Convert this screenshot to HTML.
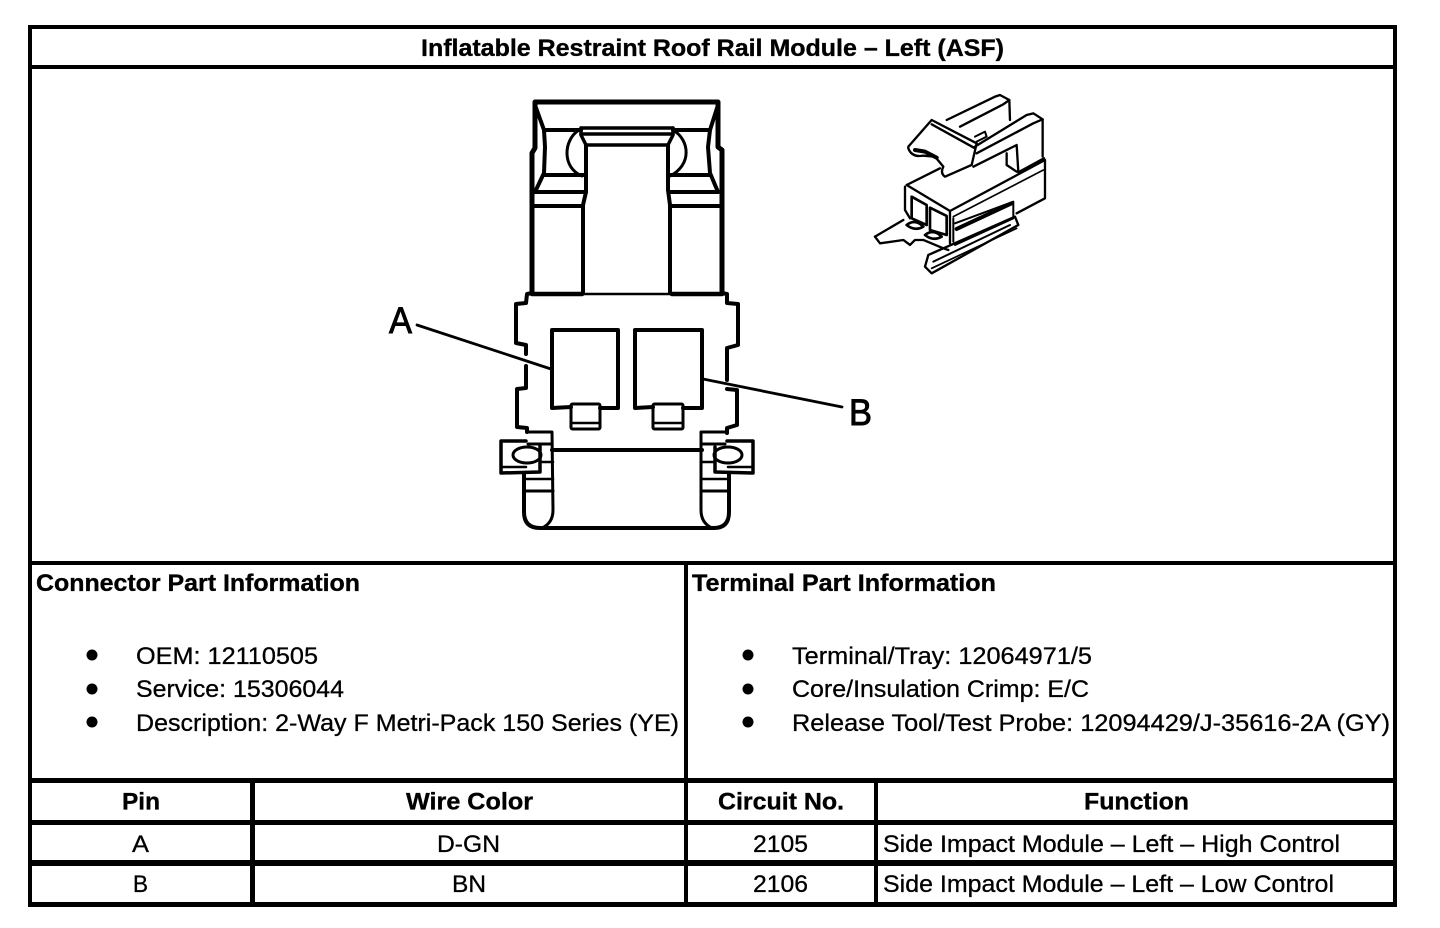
<!DOCTYPE html>
<html>
<head>
<meta charset="utf-8">
<style>
html,body{margin:0;padding:0;background:#fff;width:1440px;height:928px;overflow:hidden}
svg{display:block}
text{font-family:"Liberation Sans",sans-serif;font-size:24px;fill:#000;stroke:#000;stroke-width:.3px}
.b{font-weight:bold;stroke-width:.35px}
.g path,.g polyline,.g ellipse,.g rect{fill:none;stroke:#000;stroke-linejoin:round;stroke-linecap:round}
</style>
</head>
<body>
<svg width="1440" height="928" viewBox="0 0 1440 928" xmlns="http://www.w3.org/2000/svg">
<rect width="1440" height="928" fill="#fff"/>
<g fill="#000" shape-rendering="crispEdges">
<rect x="28" y="25" width="1369" height="4"/>
<rect x="28" y="65" width="1369" height="4"/>
<rect x="28" y="561" width="1369" height="4"/>
<rect x="28" y="778" width="1369" height="5"/>
<rect x="28" y="820" width="1369" height="5"/>
<rect x="28" y="860" width="1369" height="6"/>
<rect x="28" y="902" width="1369" height="5"/>
<rect x="28" y="25" width="4" height="882"/>
<rect x="1393" y="25" width="4" height="882"/>
<rect x="684" y="561" width="4" height="346"/>
<rect x="250" y="778" width="5" height="129"/>
<rect x="874" y="778" width="4" height="129"/>
</g>

<text class="b" x="421" y="56" textLength="583" lengthAdjust="spacingAndGlyphs">Inflatable Restraint Roof Rail Module – Left (ASF)</text>
<text class="b" x="36" y="591" textLength="324" lengthAdjust="spacingAndGlyphs">Connector Part Information</text>
<text class="b" x="692" y="591" textLength="304" lengthAdjust="spacingAndGlyphs">Terminal Part Information</text>

<g fill="#000">
<circle cx="92" cy="655" r="5.5"/><circle cx="92" cy="689" r="5.5"/><circle cx="92" cy="722" r="5.5"/>
<circle cx="748" cy="655" r="5.5"/><circle cx="748" cy="689" r="5.5"/><circle cx="748" cy="722" r="5.5"/>
</g>
<text x="136" y="664" textLength="182" lengthAdjust="spacingAndGlyphs">OEM: 12110505</text>
<text x="136" y="697" textLength="208" lengthAdjust="spacingAndGlyphs">Service: 15306044</text>
<text x="136" y="731" textLength="543" lengthAdjust="spacingAndGlyphs">Description: 2-Way F Metri-Pack 150 Series (YE)</text>
<text x="792" y="664" textLength="300" lengthAdjust="spacingAndGlyphs">Terminal/Tray: 12064971/5</text>
<text x="792" y="697" textLength="297" lengthAdjust="spacingAndGlyphs">Core/Insulation Crimp: E/C</text>
<text x="792" y="731" textLength="598" lengthAdjust="spacingAndGlyphs">Release Tool/Test Probe: 12094429/J-35616-2A (GY)</text>

<text class="b" x="122" y="809.5" textLength="38" lengthAdjust="spacingAndGlyphs">Pin</text>
<text class="b" x="406" y="809.5" textLength="127" lengthAdjust="spacingAndGlyphs">Wire Color</text>
<text class="b" x="718" y="809.5" textLength="126" lengthAdjust="spacingAndGlyphs">Circuit No.</text>
<text class="b" x="1084" y="809.5" textLength="105" lengthAdjust="spacingAndGlyphs">Function</text>
<text x="132" y="852" textLength="17" lengthAdjust="spacingAndGlyphs">A</text>
<text x="437" y="852" textLength="63" lengthAdjust="spacingAndGlyphs">D-GN</text>
<text x="753" y="852" textLength="55" lengthAdjust="spacingAndGlyphs">2105</text>
<text x="883" y="852" textLength="457" lengthAdjust="spacingAndGlyphs">Side Impact Module – Left – High Control</text>
<text x="133" y="892" textLength="15" lengthAdjust="spacingAndGlyphs">B</text>
<text x="452" y="892" textLength="34" lengthAdjust="spacingAndGlyphs">BN</text>
<text x="753" y="892" textLength="55" lengthAdjust="spacingAndGlyphs">2106</text>
<text x="883" y="892" textLength="451" lengthAdjust="spacingAndGlyphs">Side Impact Module – Left – Low Control</text>

<text x="389" y="333" style="font-size:37px;stroke-width:.9px" textLength="23" lengthAdjust="spacingAndGlyphs">A</text>
<text x="849" y="425" style="font-size:37px;stroke-width:.9px" textLength="23" lengthAdjust="spacingAndGlyphs">B</text>

<g class="g" stroke-width="4">
<!-- top housing -->
<polyline points="532,293 532,153 535,148 535,102 718,102 718,147 722,150 722,293" stroke-width="5"/>
<polyline points="535,105 544,130 581,130"/>
<polyline points="673,130 710,130 718,105"/>
<polyline points="544,130 545,147 544,173 535,192"/>
<polyline points="710,130 708,147 710,173 718,192"/>
<polyline points="581,128 673,128" stroke-width="3.5"/>
<polyline points="581,134 673,134" stroke-width="3.5"/>
<polyline points="581,128 581,135 586,145 668,145 673,135 673,128" stroke-width="3.5"/>
<polyline points="586,145 586,192 583,205 583,293"/>
<polyline points="668,145 668,190 670,205 670,293"/>
<path d="M579,130C563,140 562,168 582,176" stroke-width="3"/>
<path d="M673,130C690,140 692,165 670,176" stroke-width="3"/>
<polyline points="544,175 586,175"/>
<polyline points="670,175 710,175"/>
<polyline points="535,192 586,192"/>
<polyline points="670,192 718,192"/>
<polyline points="534,206 583,206"/>
<polyline points="672,206 720,206"/>
<polyline points="532,294 582,294" stroke-width="4.5"/>
<polyline points="582,294 672,294" stroke-width="2.5"/>
<polyline points="672,294 722,294" stroke-width="4.5"/>

<!-- body outline -->
<polyline points="532,293 527,294 526,303 516,304 516,343 526,345 526,354"/>
<polyline points="526,366 526,388 517,389 517,427 527,428 527,432"/>
<polyline points="722,293 727,294 727,303 738,304 738,345 727,348 727,380"/>
<polyline points="727,389 737,390 737,425 727,428 727,433"/>

<!-- windows -->
<polyline points="571,407 552,408 552,330 618,330 618,408 600,408"/>
<polyline points="653,407 635,408 635,330 702,330 702,408 683,408"/>
<rect x="571" y="404" width="29" height="25" rx="1.5" stroke-width="3"/>
<rect x="653" y="404" width="30" height="25" rx="1.5" stroke-width="3"/>
<polyline points="571,423 600,423" stroke-width="2.5"/>
<polyline points="653,423 683,423" stroke-width="2.5"/>

<!-- lower -->
<polyline points="552,450 702,450" stroke-width="4"/>
<path d="M524,473V512Q524,528 540,528H714Q729,528 729,512V473"/>
<path d="M528,432H552L553,510Q553,523 542,528" stroke-width="3"/>
<polyline points="702,432 727,432" stroke-width="3"/>
<path d="M701,432V510Q701,523 712,528" stroke-width="3"/>
<polyline points="528,444 552,444" stroke-width="3"/>
<polyline points="702,444 725,444" stroke-width="3"/>
<polyline points="526,441 501,441 501,473 540,472 540,445" stroke-width="3.5"/>
<polyline points="727,441 753,441 753,473 715,472 715,447" stroke-width="3.5"/>
<ellipse cx="527" cy="455" rx="14" ry="8" stroke-width="3"/>
<ellipse cx="728" cy="455" rx="14" ry="8" stroke-width="3"/>
<polyline points="502,467 526,467" stroke-width="2.5"/>
<polyline points="728,467 752,467" stroke-width="2.5"/>
<polyline points="540,462 553,462" stroke-width="2.5"/>
<polyline points="701,462 715,462" stroke-width="2.5"/>
<polyline points="526,479 553,479" stroke-width="2.5"/>
<polyline points="526,491 553,491" stroke-width="3"/>
<polyline points="701,479 729,479" stroke-width="2.5"/>
<polyline points="701,491 729,491" stroke-width="3"/>

<!-- leaders -->
<polyline points="417,325 551,369" stroke-width="2.8"/>
<polyline points="703,379 842,407" stroke-width="2.8"/>
</g>

<!-- 3D icon -->
<g class="g" transform="translate(860 85) scale(.3333)">
<path d="M145,185 L215,105 L350,175 L335,240 L255,275 Q240,265 250,245 L225,215 L190,212 Q155,218 145,190Z" stroke-width="7"/>
<polyline points="215,118 345,190" stroke-width="7"/>
<polyline points="165,195 195,200 230,218" stroke-width="12"/>
<polyline points="260,105 405,35 420,30 448,45 450,105" stroke-width="7"/>
<polyline points="300,125 430,58 448,45" stroke-width="7"/>
<polyline points="345,155 375,140 380,155 350,170" stroke-width="6"/>
<polyline points="345,185 500,90 520,85 548,103 548,215" stroke-width="7"/>
<polyline points="350,205 520,115 548,103" stroke-width="7"/>
<polyline points="340,245 470,180 475,260" stroke-width="7"/>
<polyline points="440,205 440,240 470,260" stroke-width="7"/>
<polyline points="140,300 270,378 555,225 555,340 470,385" stroke-width="7"/>
<polyline points="140,300 240,250" stroke-width="7"/>
<polyline points="135,305 135,375 150,400" stroke-width="7"/>
<polyline points="270,378 270,475" stroke-width="7"/>
<polyline points="475,262 552,220" stroke-width="7"/>
<polyline points="280,395 550,255" stroke-width="5"/>
<path d="M155,335L200,360V420L155,400Z" stroke-width="8"/>
<path d="M210,368L260,393V450L210,435Z" stroke-width="8"/>
<polyline points="280,400 280,470" stroke-width="6"/>
<polyline points="285,415 460,350 460,400 285,480" stroke-width="6"/>
<polyline points="290,432 455,355" stroke-width="12"/>
<polyline points="45,455 130,405" stroke-width="7"/>
<polyline points="45,455 60,475 130,465 150,480 165,465 190,465 250,490 265,495" stroke-width="7"/>
<path d="M140,420Q165,400 190,425Q165,440 140,420Z" stroke-width="8"/>
<path d="M195,450Q220,430 245,455Q220,470 195,450Z" stroke-width="8"/>
<path d="M205,510L465,395L475,420L215,565L195,545Z" stroke-width="7"/>
<polyline points="220,530 450,420" stroke-width="6"/>
<polyline points="215,550 470,430" stroke-width="5"/>
</g>
</svg>
</body>
</html>
